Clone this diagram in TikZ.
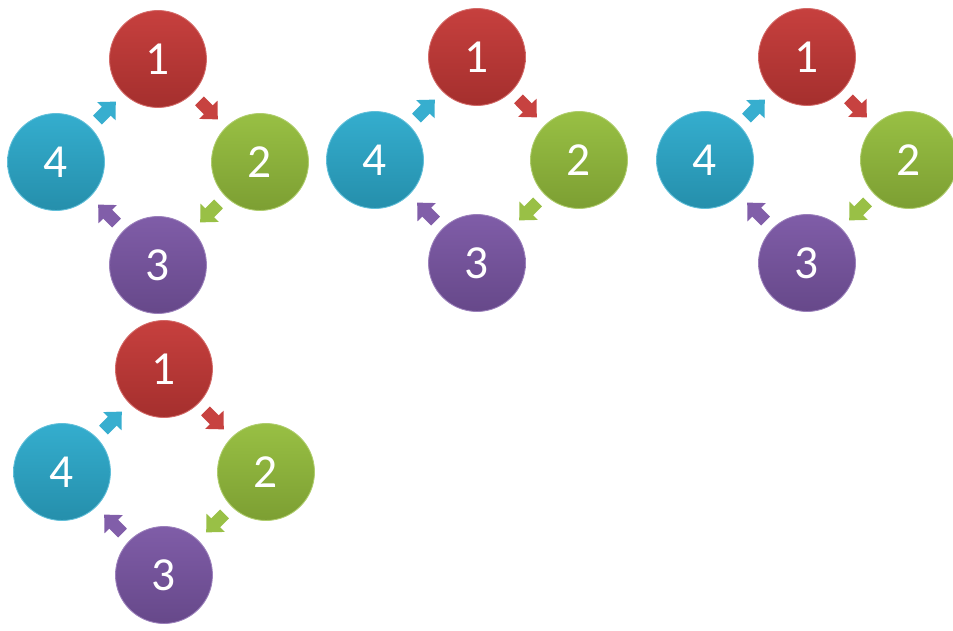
\documentclass[tikz,border=0pt]{standalone}
\usepackage{fontspec}
\setmainfont{Carlito}
\usepackage{xcolor}
\usetikzlibrary{arrows.meta}
\definecolor{red}   {RGB}{196,56,54}
\definecolor{green} {RGB}{148,189,60}
\definecolor{blue}  {RGB}{44,170,204}
\definecolor{purple}{RGB}{122,86,164}
\tikzset{ % balls and arrows
ball/.style={circle,minimum size=1.94cm,inner sep=0pt,text=white,
  font=\fontsize{27}{32}\selectfont,
  top color=#1!96!white,bottom color=#1!84!black,draw=#1!75!white,line width=0.5pt},
flow/.style={draw=#1!95!white,line width=0.25cm,
  -{Triangle[width=0.5cm,length=0.27cm]},shorten <=0.2cm,shorten >=0.22cm},
}

\begin{document}
\begin{tikzpicture}[x=0.02cm,y=-0.02cm]
\useasboundingbox (0,0) rectangle (953,631);
\foreach \g/\cx/\cy in {a/158/162, b/477/160, c/807/160, d/164/472} {
  \node [ball=red]    (\g1) at (\cx,\cy-103) {1};
  \node [ball=green]  (\g2) at (\cx+102,\cy) {2};
  \node [ball=purple] (\g3) at (\cx,\cy+103) {3};
  \node [ball=blue]   (\g4) at (\cx-102,\cy) {4};
  \draw [flow=red]    (\g1) -- (\g2);
  \draw [flow=green]  (\g2) -- (\g3);
  \draw [flow=purple] (\g3) -- (\g4);
  \draw [flow=blue]   (\g4) -- (\g1);
}
\end{tikzpicture}
\end{document}
